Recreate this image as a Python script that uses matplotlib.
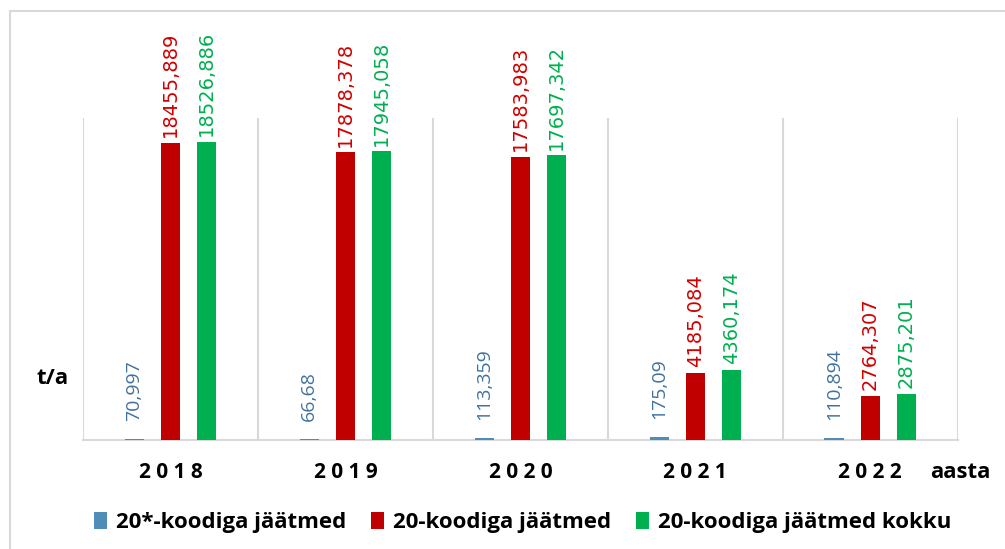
import matplotlib
matplotlib.use("Agg")
import matplotlib.pyplot as plt
from matplotlib.patches import Rectangle
import numpy as np

years = ['2018', '2019', '2020', '2021', '2022']
series_names = ['20*-koodiga jäätmed', '20-koodiga jäätmed', '20-koodiga jäätmed kokku']
star_vals = [70.997, 66.68, 113.359, 175.09, 110.894]
code20_vals = [18455.889, 17878.378, 17583.983, 4185.084, 2764.307]
total_vals = [18526.886, 17945.058, 17697.342, 4360.174, 2875.201]

bar_colors = ['#4F8DB8', '#C00000', '#00B050']
label_colors = ['#41729C', '#D00000', '#00B050']
label_offsets = [13, 4, 4]
label_fonts = ['Open Sans', 'DejaVu Sans', 'DejaVu Sans']


def fmt(v):
    s = ('%.3f' % v).rstrip('0').rstrip('.')
    return s.replace('.', ',')


fig = plt.figure(figsize=(10.05, 5.49), dpi=100)
ax = fig.add_axes([0.0826, 0.1985, 0.8704, 0.5865])

# light outer frame like the Excel chart area
fig.patches.append(Rectangle((0.01, -0.2), 1.2, 1.18, transform=fig.transFigure,
                             fill=False, edgecolor='#D9D9D9', linewidth=1.5))

x = np.arange(len(years))
width = 0.11
spacing = 0.207
all_vals = [star_vals, code20_vals, total_vals]
for i, vals in enumerate(all_vals):
    pos = x + (i - 1) * spacing
    ax.bar(pos, vals, width=width, color=bar_colors[i], label=series_names[i], zorder=3)
    for px, v in zip(pos, vals):
        ax.annotate(fmt(v), (px, v), xytext=(0, label_offsets[i]), textcoords='offset points',
                    rotation=90, ha='center', va='bottom', color=label_colors[i],
                    fontsize=14, family=label_fonts[i], annotation_clip=False)

ax.set_xlim(-0.5, len(years) - 0.5)
ax.set_ylim(0, 20000)
ax.set_yticks([])
ax.set_xticks(x)
ax.set_xticklabels([' '.join(y) for y in years], fontsize=15, fontweight='bold', family='Open Sans')
ax.tick_params(axis='x', length=0, pad=16)

for b in np.arange(-0.5, len(years), 1.0):
    ax.axvline(b, color='#D9D9D9', linewidth=1.5, zorder=1)
for side in ['top', 'left', 'right']:
    ax.spines[side].set_visible(False)
ax.spines['bottom'].set_color('#D9D9D9')
ax.spines['bottom'].set_linewidth(1.5)

fig.text(0.036, 0.3, 't/a', fontsize=16, fontweight='bold', family='Open Sans')
fig.text(0.925, 0.13, 'aasta', fontsize=16, fontweight='bold', family='Open Sans')

fig.legend(loc='center', bbox_to_anchor=(0.52, 0.048), ncol=3, frameon=False,
           prop={'family': 'Open Sans', 'weight': 'bold', 'size': 16},
           handlelength=0.6, handleheight=0.8, handletextpad=0.4, columnspacing=1.1)

fig.savefig('out.png', dpi=100)
